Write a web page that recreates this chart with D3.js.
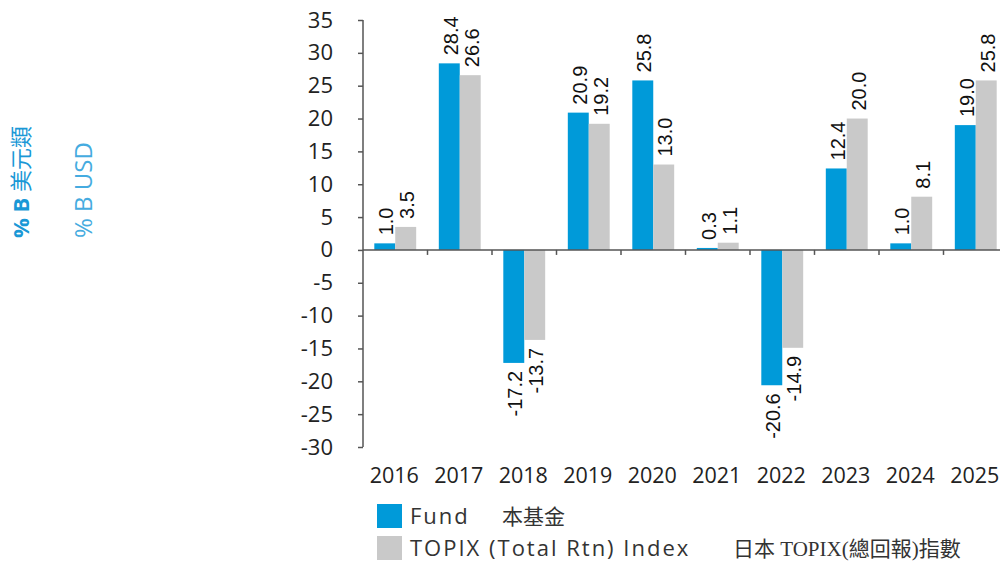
<!DOCTYPE html>
<html>
<head>
<meta charset="utf-8">
<script src="https://cdn.jsdelivr.net/npm/d3@7"></script>
<style>
  body { margin: 0; background: #fff; }
  svg { display: block; }
</style>
</head>
<body>
<div id="container"></div>
<script>
/* DATA */
const years = ["2016", "2017", "2018", "2019", "2020", "2021", "2022", "2023", "2024", "2025"];
const fund = [1.0, 28.4, -17.2, 20.9, 25.8, 0.3, -20.6, 12.4, 1.0, 19.0];
const topix = [3.5, 26.6, -13.7, 19.2, 13.0, 1.1, -14.9, 20.0, 8.1, 25.8];
const yTicks = [35, 30, 25, 20, 15, 10, 5, 0, -5, -10, -15, -20, -25, -30];
const seriesKeys = ["fund", "topix"];
const seriesColors = { fund: "#009ad9", topix: "#c9c9c9" };

const width = 1000, height = 563;
const hyphen = s => s.replace("\u2212", "-");

const svg = d3.select("#container")
  .append("svg")
  .attr("width", width)
  .attr("height", height);

// SCALES
const x = d3.scaleBand()
  .domain(years)
  .range([363, 1008])
  .padding(0);

const xSub = d3.scaleBand()
  .domain(seriesKeys)
  .range([0, x.bandwidth()])
  .paddingInner(0)
  .paddingOuter(0.54);

const y = d3.scaleLinear()
  .domain([-30, 35])
  .range([447, 20]);

const rows = years.map((yr, i) => ({ year: yr, fund: fund[i], topix: topix[i] }));

// left side titles
svg.append("text")
  .attr("transform", "translate(29,238) rotate(-90)")
  .attr("font-family", "'Open Sans', 'Noto Sans CJK TC', sans-serif")
  .attr("font-size", 22)
  .attr("fill", "#1a98d6")
  .html('<tspan font-weight="bold">% B</tspan> 美元類');

svg.append("text")
  .attr("transform", "translate(92,238) rotate(-90)")
  .attr("font-family", "'Open Sans', sans-serif")
  .attr("font-size", 24)
  .attr("fill", "#45abe0")
  .text("% B USD");

// Y AXIS
const yAxis = d3.axisLeft(y)
  .tickValues(yTicks)
  .tickSize(5)
  .tickPadding(25)
  .tickFormat(d => hyphen(d3.format("d")(d)));

const gy = svg.append("g")
  .attr("transform", "translate(363,0)")
  .call(yAxis);
gy.select(".domain").attr("stroke", "#555").attr("stroke-width", 1.5)
  .attr("d", "M0," + y(35) + "V" + y(-30));
gy.selectAll(".tick line").attr("stroke", "#555").attr("stroke-width", 1.5);
gy.selectAll(".tick text")
  .attr("font-family", "'Open Sans', sans-serif")
  .attr("font-size", 22)
  .attr("fill", "#222");

// BARS
const groups = svg.append("g")
  .selectAll("g")
  .data(rows)
  .join("g")
  .attr("transform", d => "translate(" + x(d.year) + ",0)");

groups.selectAll("rect")
  .data(d => seriesKeys.map(k => ({ key: k, value: d[k] })))
  .join("rect")
  .attr("x", d => xSub(d.key))
  .attr("width", xSub.bandwidth())
  .attr("y", d => y(Math.max(0, d.value)))
  .attr("height", d => Math.abs(y(d.value) - y(0)))
  .attr("fill", d => seriesColors[d.key]);

// value labels
groups.selectAll("text.val")
  .data(d => seriesKeys.map(k => ({ key: k, value: d[k] })))
  .join("text")
  .attr("class", "val")
  .attr("transform", d => {
    const cx = xSub(d.key) + xSub.bandwidth() / 2 + 3;
    const cy = d.value >= 0 ? y(d.value) - 8 : y(d.value) + 8;
    return "translate(" + cx + "," + cy + ") rotate(-90)";
  })
  .attr("text-anchor", d => d.value >= 0 ? "start" : "end")
  .attr("dominant-baseline", "middle")
  .attr("font-family", "'Liberation Sans', Arial, sans-serif")
  .attr("font-size", 20)
  .attr("fill", "#111")
  .text(d => hyphen(d3.format(".1f")(d.value)));

// X AXIS (zero line)
svg.append("line")
  .attr("x1", 363).attr("x2", 1000)
  .attr("y1", y(0)).attr("y2", y(0))
  .attr("stroke", "#555").attr("stroke-width", 1.5);

svg.append("g")
  .selectAll("line")
  .data(years.slice(1))
  .join("line")
  .attr("x1", d => x(d)).attr("x2", d => x(d))
  .attr("y1", y(0)).attr("y2", y(0) + 5)
  .attr("stroke", "#555").attr("stroke-width", 1.5);

svg.append("g")
  .selectAll("text")
  .data(years)
  .join("text")
  .attr("x", d => x(d) + x.bandwidth() / 2 - 1)
  .attr("y", 483)
  .attr("text-anchor", "middle")
  .attr("font-family", "'Open Sans', sans-serif")
  .attr("font-size", 21.5)
  .attr("fill", "#222")
  .text(d => d);

// LEGEND
const legend = [
  { key: "fund", en: "Fund", zh: "本基金", zx: 502 },
  { key: "topix", en: "TOPIX (Total Rtn) Index", zh: "日本 TOPIX(總回報)指數", zx: 733 }
];
const lg = svg.append("g")
  .selectAll("g")
  .data(legend)
  .join("g")
  .attr("transform", (d, i) => "translate(377," + (504 + i * 32) + ")");

lg.append("rect")
  .attr("width", 25).attr("height", 24)
  .attr("fill", d => seriesColors[d.key]);

lg.append("text")
  .attr("x", 33).attr("y", 20)
  .attr("font-family", "'Open Sans', sans-serif")
  .attr("font-size", 22)
  .attr("letter-spacing", 2)
  .attr("fill", "#333")
  .text(d => d.en);

lg.append("text")
  .attr("x", d => d.zx - 377).attr("y", 20)
  .attr("font-family", "'Liberation Serif', 'Noto Sans CJK TC', serif")
  .attr("font-size", 21)
  .attr("fill", "#333")
  .text(d => d.zh);
</script>
</body>
</html>
